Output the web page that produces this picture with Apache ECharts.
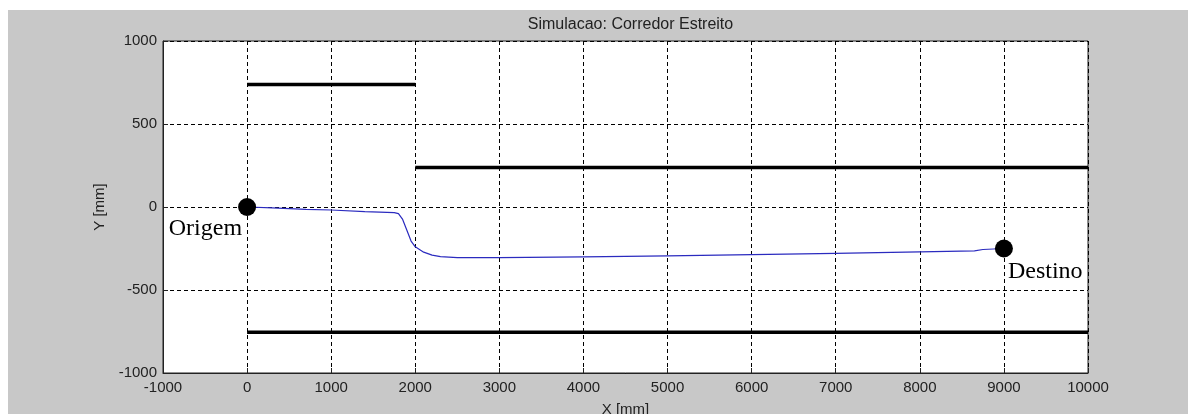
<!DOCTYPE html>
<html>
<head>
<meta charset="utf-8">
<script src="https://cdn.jsdelivr.net/npm/echarts@6/dist/echarts.min.js"></script>
<style>
html,body{margin:0;padding:0;background:#fff;}
#wrap{position:relative;width:1188px;height:414px;overflow:hidden;background:#fff;}
#bg{position:absolute;left:8px;top:10px;width:1180px;height:404px;background:#c8c8c8;}
#main{position:absolute;left:0;top:0;width:1188px;height:414px;}
</style>
</head>
<body>
<div id="wrap"><div id="bg"></div><div id="main"></div></div>
<script>
// Data
const titleText = 'Simulacao: Corredor Estreito';
const xName = 'X [mm]';
const yName = 'Y [mm]';
const xMin = -1000, xMax = 10000, xStep = 1000;
const yMin = -1000, yMax = 1000, yStep = 500;

// Walls [x, y] segments
const wallTop = [[0, 738], [2000, 738]];
const wallMid = [[2000, 238], [10000, 238]];
const wallBottom = [[0, -755], [10000, -755]];

// Robot path
const pathX = [0, 300, 700, 1000, 1400, 1750, 1800, 1850, 1900, 1950, 2000, 2100, 2200, 2300, 2500, 3000, 4000, 5000, 6000, 7000, 8000, 8650, 8750, 9000];
const pathY = [0, -5, -14, -18, -28, -34, -40, -75, -140, -205, -240, -272, -290, -299, -305, -305, -300, -294, -287, -279, -270, -264, -256, -250];

// Start / goal points
const originPt = [0, 0];
const goalPt = [9000, -250];
const originLabel = 'Origem';
const goalLabel = 'Destino';

const pathData = pathX.map((x, i) => [x, pathY[i]]);

const chart = echarts.init(document.getElementById('main'), null, {renderer: 'canvas'});
const axisFont = {fontFamily: 'Liberation Sans', fontSize: 15, color: '#222'};
const nameFont = {fontFamily: 'Liberation Sans', fontSize: 15, color: '#222'};
const wallStyle = {color: '#000', width: 3.5};
const plain = v => String(v);

chart.setOption({
  backgroundColor: 'transparent',
  animation: false,
  title: {
    text: titleText, left: 625.5, textAlign: 'center', top: 12,
    textStyle: {fontFamily: 'Liberation Sans', fontSize: 16, fontWeight: 'normal', color: '#222'}
  },
  grid: {
    left: 163, top: 41, right: 100, bottom: 41, containLabel: false, outerBoundsMode: 'none',
    show: true, backgroundColor: '#fff', borderColor: '#222', borderWidth: 1
  },
  xAxis: {
    type: 'value', min: xMin, max: xMax, interval: xStep,
    name: xName, nameLocation: 'middle', nameGap: 29,
    nameTextStyle: nameFont,
    axisLine: {show: true, onZero: false, lineStyle: {color: '#222', width: 1}},
    axisTick: {show: true, inside: true, length: 5, lineStyle: {color: '#222'}},
    axisLabel: Object.assign({margin: 7, formatter: plain}, axisFont),
    splitLine: {show: true, lineStyle: {color: '#000', type: [4, 3], width: 1}}
  },
  yAxis: {
    type: 'value', min: yMin, max: yMax, interval: yStep,
    name: yName, nameLocation: 'middle', nameGap: 53, nameRotate: 90,
    nameTextStyle: nameFont,
    axisLine: {show: true, onZero: false, lineStyle: {color: '#222', width: 1}},
    axisTick: {show: true, inside: true, length: 5, lineStyle: {color: '#222'}},
    axisLabel: Object.assign({margin: 6, formatter: plain}, axisFont),
    splitLine: {show: true, lineStyle: {color: '#000', type: [4, 3], width: 1}}
  },
  series: [
    {type: 'line', data: wallTop, symbol: 'none', lineStyle: wallStyle, z: 3, silent: true},
    {type: 'line', data: wallMid, symbol: 'none', lineStyle: wallStyle, z: 3, silent: true},
    {type: 'line', data: wallBottom, symbol: 'none', lineStyle: wallStyle, z: 3, silent: true},
    {type: 'line', data: pathData, symbol: 'none', lineStyle: {color: '#2b2bbf', width: 1.2}, z: 4, silent: true},
    {
      type: 'scatter', symbol: 'circle', symbolSize: 18, z: 5, silent: true,
      itemStyle: {color: '#000', opacity: 1},
      data: [
        {value: originPt, label: {show: true, formatter: originLabel, position: [4, 31], align: 'right', verticalAlign: 'middle'}},
        {value: goalPt, label: {show: true, formatter: goalLabel, position: [13, 32], align: 'left', verticalAlign: 'middle'}}
      ],
      label: {fontFamily: 'Liberation Serif', fontSize: 24, color: '#000'}
    }
  ]
});
</script>
</body>
</html>
